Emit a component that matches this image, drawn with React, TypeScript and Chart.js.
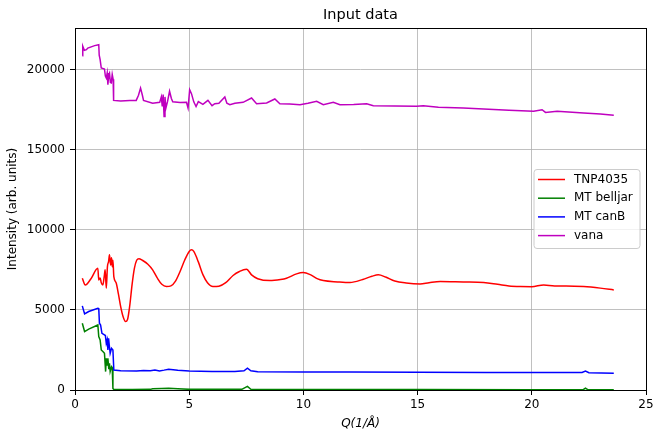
import React, { useEffect, useRef } from 'react';
import { Chart, registerables } from 'chart.js';

Chart.register(...registerables);

const seriesLabels = ['TNP4035', 'MT belljar', 'MT canB', 'vana'];
const seriesColors = ['#ff0000', '#008000', '#0000ff', '#bf00bf'];
const xTicks = [0, 5, 10, 15, 20, 25];
const yTicks = [0, 5000, 10000, 15000, 20000];

const tnpQ = [0.32, 0.45, 0.7, 1.0, 1.04, 1.1, 1.15, 1.22, 1.28, 1.32, 1.37, 1.42, 1.47, 1.51, 1.56, 1.6, 1.63, 1.66, 1.7, 1.8, 1.9, 2.0, 2.1, 2.21, 2.3, 2.4, 2.5, 2.6, 2.7, 2.8, 2.95, 3.19, 3.4, 3.6, 3.8, 4.0, 4.2, 4.4, 4.6, 4.8, 5.0, 5.1, 5.2, 5.4, 5.6, 5.8, 6.04, 6.3, 6.6, 6.92, 7.2, 7.51, 7.73, 8.0, 8.53, 9.0, 9.26, 9.7, 9.99, 10.3, 10.6, 10.87, 11.5, 12.04, 12.6, 13.0, 13.28, 13.6, 14.0, 14.5, 15.11, 15.5, 15.99, 17.0, 17.89, 18.5, 19.0, 19.5, 20.0, 20.52, 21.0, 21.5, 22.27, 23.0, 23.59];
const tnpI = [6980, 6560, 6950, 7600, 6870, 7000, 6700, 6560, 7100, 7500, 6350, 7700, 8020, 8440, 7800, 8250, 7700, 8100, 7080, 6700, 6000, 5200, 4600, 4270, 4400, 5300, 6600, 7600, 8100, 8200, 8100, 7850, 7500, 7000, 6600, 6460, 6500, 6800, 7400, 8100, 8650, 8750, 8650, 8000, 7200, 6700, 6460, 6480, 6700, 7150, 7400, 7540, 7190, 6950, 6830, 6900, 6980, 7250, 7330, 7200, 6950, 6830, 6750, 6710, 6900, 7100, 7190, 7050, 6800, 6680, 6625, 6700, 6770, 6740, 6710, 6600, 6500, 6460, 6450, 6560, 6500, 6500, 6460, 6360, 6250];

const belljarQ = [0.32, 0.42, 0.6, 1.0, 1.04, 1.1, 1.15, 1.22, 1.29, 1.34, 1.37, 1.41, 1.44, 1.48, 1.51, 1.54, 1.6, 1.63, 1.66, 1.7, 2.5, 3.3, 3.4, 3.8, 4.1, 4.5, 5.0, 7.3, 7.55, 7.7, 8.0, 12.0, 15.0, 20.0, 22.25, 22.35, 22.45, 23.59];
const belljarI = [4170, 3650, 3800, 4060, 3330, 3130, 2500, 2400, 2290, 1150, 1980, 1560, 1980, 1300, 1670, 1150, 1460, 1400, 100, 30, 30, 40, 80, 100, 110, 80, 40, 40, 230, 50, 30, 30, 25, 20, 20, 110, 20, 15];

const canBQ = [0.32, 0.42, 0.6, 1.0, 1.04, 1.07, 1.12, 1.18, 1.29, 1.33, 1.37, 1.41, 1.44, 1.47, 1.5, 1.54, 1.6, 1.66, 1.7, 2.0, 2.7, 3.0, 3.3, 3.5, 3.7, 3.9, 4.1, 4.5, 5.0, 6.0, 7.0, 7.4, 7.55, 7.7, 8.0, 10.0, 12.0, 15.0, 18.0, 20.0, 22.2, 22.35, 22.5, 23.59];
const canBI = [5250, 4750, 4900, 5100, 5080, 4170, 4060, 3540, 3440, 3400, 2920, 3130, 2500, 3230, 2800, 2290, 2600, 2500, 1250, 1200, 1190, 1210, 1200, 1250, 1190, 1240, 1300, 1230, 1180, 1150, 1160, 1200, 1360, 1200, 1140, 1120, 1120, 1110, 1100, 1090, 1090, 1180, 1080, 1050];

const vanaQ = [0.32, 0.34, 0.41, 0.5, 0.56, 0.86, 1.04, 1.06, 1.1, 1.15, 1.29, 1.33, 1.37, 1.41, 1.44, 1.48, 1.51, 1.55, 1.59, 1.63, 1.67, 1.69, 2.0, 2.4, 2.68, 2.78, 2.87, 2.95, 3.0, 3.4, 3.71, 3.78, 3.82, 3.86, 3.9, 3.94, 3.98, 4.05, 4.14, 4.22, 4.28, 4.6, 4.88, 4.95, 5.02, 5.1, 5.2, 5.3, 5.4, 5.6, 5.82, 6.0, 6.12, 6.3, 6.56, 6.65, 6.78, 7.0, 7.36, 7.73, 7.95, 8.39, 8.75, 8.97, 9.4, 9.85, 10.2, 10.58, 10.87, 11.31, 11.6, 12.2, 12.77, 13.06, 14.0, 14.96, 15.25, 15.91, 17.0, 17.89, 19.0, 20.08, 20.45, 20.6, 21.11, 22.27, 23.0, 23.59];
const vanaI = [20875, 21460, 21210, 21250, 21350, 21500, 21560, 20900, 20625, 20100, 20040, 19600, 19480, 19790, 19060, 19700, 19790, 19200, 19170, 19700, 19400, 18080, 18050, 18080, 18080, 18400, 18850, 18400, 18080, 17900, 17960, 18300, 17700, 18440, 17080, 18300, 17600, 18000, 18650, 18200, 17990, 17950, 17960, 17600, 18750, 18500, 17990, 17700, 18000, 17830, 18080, 17750, 17875, 17900, 18290, 17900, 17810, 17900, 17960, 18230, 17875, 17920, 18170, 17875, 17850, 17810, 17900, 18020, 17810, 17960, 17810, 17820, 17875, 17750, 17730, 17710, 17750, 17650, 17600, 17540, 17470, 17400, 17500, 17330, 17400, 17290, 17230, 17150];

const FONT = 'DejaVu Sans';

function toPoints(q: number[], v: number[]) {
  return q.map((x, i) => ({ x, y: v[i] }));
}

const decorPlugin = {
  id: 'decor',
  afterDatasetsDraw(chart: any) {
    const { ctx, chartArea } = chart;
    const { left, top, right, bottom } = chartArea;
    ctx.save();
    ctx.strokeStyle = '#000';
    ctx.lineWidth = 1;
    ctx.strokeRect(Math.round(left) + 0.5, Math.round(top) + 0.5, Math.round(right - left), Math.round(bottom - top));
    ctx.restore();
  },
  afterDraw(chart: any) {
    const { ctx, chartArea } = chart;
    const { left, top, right, bottom } = chartArea;
    ctx.save();
    ctx.fillStyle = '#000';
    ctx.font = `14.5px "${FONT}"`;
    ctx.textAlign = 'center';
    ctx.textBaseline = 'middle';
    ctx.fillText('Input data', (left + right) / 2, 15);
    const w = 106;
    const h = 79;
    const bx = right - 6 - w;
    const by = (top + bottom) / 2 - h / 2;
    const r = 3;
    ctx.beginPath();
    ctx.moveTo(bx + r, by);
    ctx.lineTo(bx + w - r, by);
    ctx.quadraticCurveTo(bx + w, by, bx + w, by + r);
    ctx.lineTo(bx + w, by + h - r);
    ctx.quadraticCurveTo(bx + w, by + h, bx + w - r, by + h);
    ctx.lineTo(bx + r, by + h);
    ctx.quadraticCurveTo(bx, by + h, bx, by + h - r);
    ctx.lineTo(bx, by + r);
    ctx.quadraticCurveTo(bx, by, bx + r, by);
    ctx.closePath();
    ctx.fillStyle = 'rgba(255,255,255,0.8)';
    ctx.fill();
    ctx.strokeStyle = '#cccccc';
    ctx.lineWidth = 1;
    ctx.stroke();
    ctx.font = `12px "${FONT}"`;
    ctx.textAlign = 'left';
    ctx.textBaseline = 'middle';
    seriesLabels.forEach((lab, i) => {
      const y = by + 10 + i * 18.7;
      ctx.strokeStyle = seriesColors[i];
      ctx.lineWidth = 1.5;
      ctx.beginPath();
      ctx.moveTo(bx + 4, y);
      ctx.lineTo(bx + 31, y);
      ctx.stroke();
      ctx.fillStyle = '#000';
      ctx.fillText(lab, bx + 40, y);
    });
    ctx.restore();
  },
};

export default function App() {
  const ref = useRef<HTMLCanvasElement>(null);
  useEffect(() => {
    if (!ref.current) return;
    const series = [
      toPoints(tnpQ, tnpI),
      toPoints(belljarQ, belljarI),
      toPoints(canBQ, canBI),
      toPoints(vanaQ, vanaI),
    ];
    const chart = new Chart(ref.current, {
      type: 'scatter',
      data: {
        datasets: series.map((d, i) => ({
          label: seriesLabels[i],
          data: d,
          showLine: true,
          borderColor: seriesColors[i],
          backgroundColor: seriesColors[i],
          borderWidth: 1.5,
          pointRadius: 0,
          pointHoverRadius: 0,
          cubicInterpolationMode: i === 0 ? 'monotone' : 'default',
          order: 3 - i,
        })),
      },
      options: {
        responsive: false,
        animation: false,
        devicePixelRatio: 1,
        layout: { padding: { left: 0, right: 0, top: 28, bottom: 0 } },
        plugins: {
          legend: { display: false },
          tooltip: { enabled: false },
          title: { display: false },
        },
        scales: {
          x: {
            type: 'linear',
            min: 0,
            max: 25,
            afterBuildTicks: (s: any) => {
              s.ticks = xTicks.map((v) => ({ value: v }));
            },
            afterFit: (s: any) => {
              s.height = 41;
              s.paddingRight = 7;
              s.paddingLeft = 0;
            },
            grid: { color: '#b0b0b0', lineWidth: 0.8, tickColor: '#000', tickWidth: 1, tickLength: 5 },
            border: { display: false },
            ticks: { color: '#000', font: { family: FONT, size: 12 }, padding: 3, maxRotation: 0, callback: (v: any) => String(v) },
            title: { display: true, text: 'Q(1/Å)', color: '#000', font: { family: FONT, size: 12, style: 'italic' }, padding: { top: 0, bottom: 0 } },
          },
          y: {
            type: 'linear',
            min: 0,
            max: 22600,
            afterBuildTicks: (s: any) => {
              s.ticks = yTicks.map((v) => ({ value: v }));
            },
            afterFit: (s: any) => {
              s.width = 75;
            },
            grid: { color: '#b0b0b0', lineWidth: 0.8, tickColor: '#000', tickWidth: 1, tickLength: 5 },
            border: { display: false },
            ticks: { color: '#000', font: { family: FONT, size: 12 }, padding: 5, callback: (v: any) => String(v) },
            title: { display: true, text: 'Intensity (arb. units)', color: '#000', font: { family: FONT, size: 12 }, padding: { top: 6, bottom: 0 } },
          },
        },
      },
      plugins: [decorPlugin],
    });
    return () => chart.destroy();
  }, []);
  return (
    <div style={{ position: 'absolute', left: 0, top: 0, width: 653, height: 431, background: '#fff' }}>
      <canvas ref={ref} width={653} height={431} style={{ display: 'block' }} />
    </div>
  );
}
